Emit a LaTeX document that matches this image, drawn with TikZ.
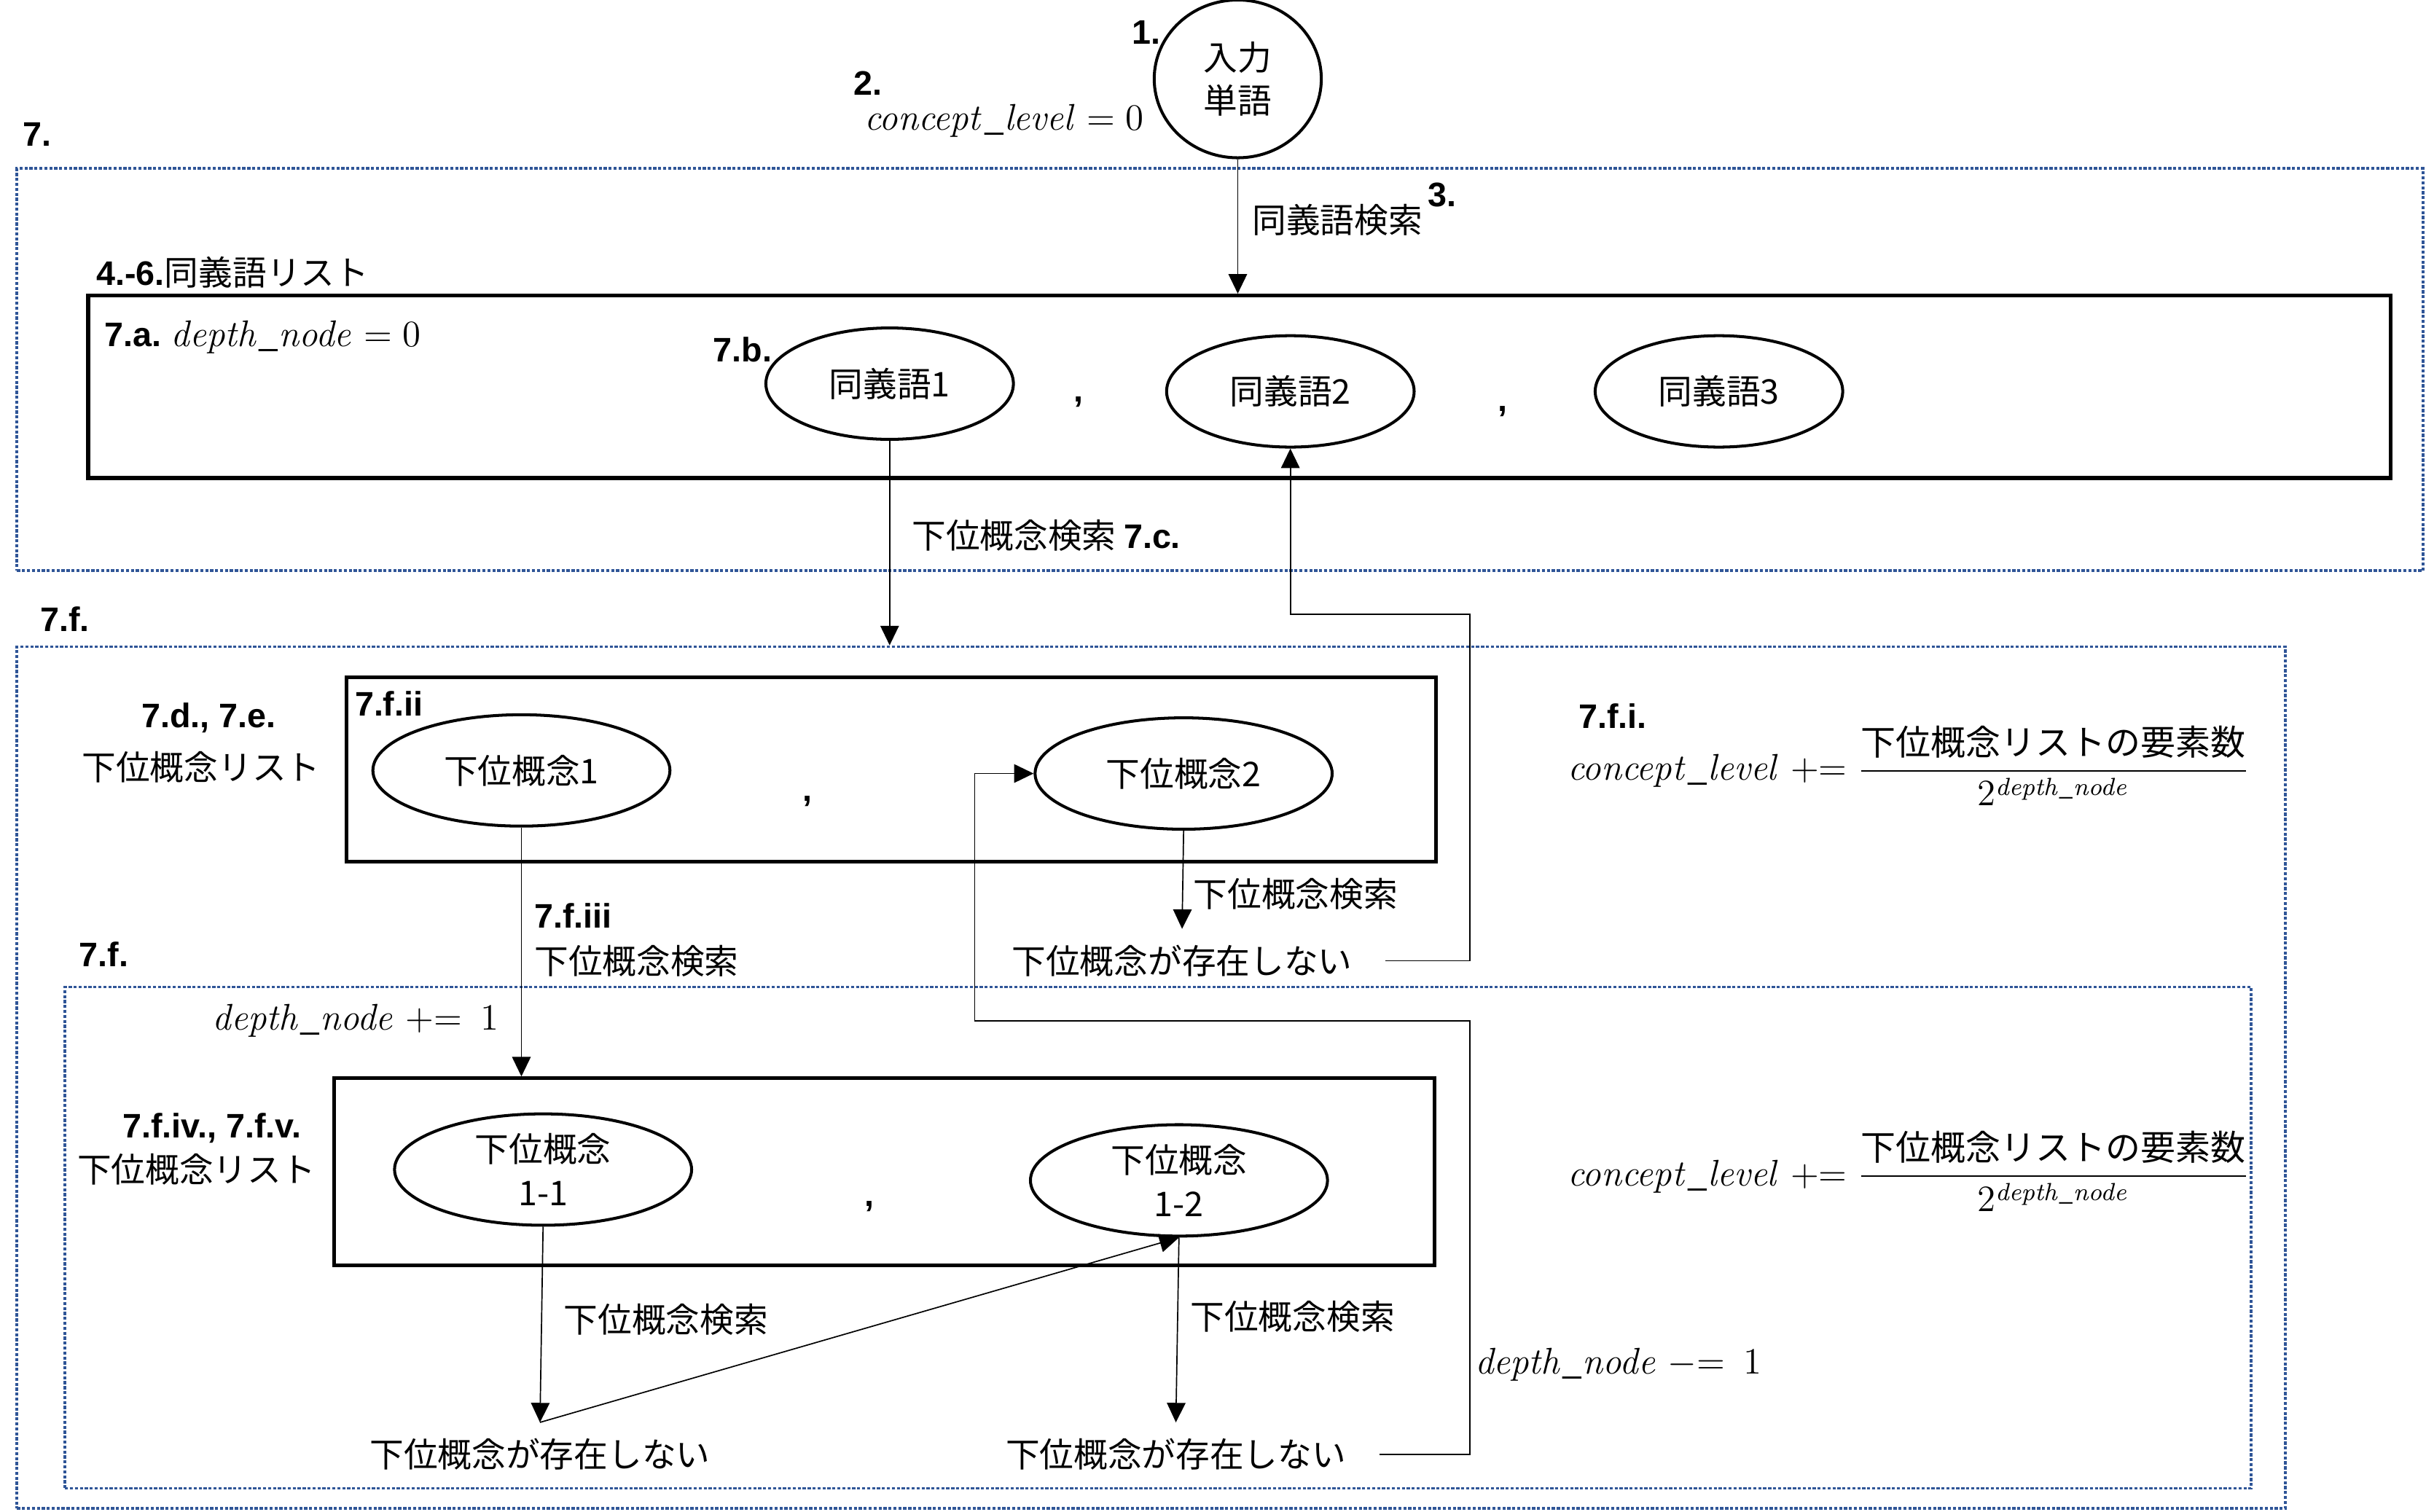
\documentclass[tikz,border=0pt]{standalone}
\usepackage{amsmath}
\usepackage[no-math]{fontspec}
\setmainfont{Noto Sans CJK JP}
\newfontfamily\labfont{Liberation Sans}
\usetikzlibrary{arrows.meta,shapes.geometric,calc}
\definecolor{dotblue}{HTML}{2F5597}
\tikzset{
  ell/.style={draw, ellipse, line width=0.95pt, inner sep=0pt, minimum width=96pt, minimum height=36pt, align=center},
  listbox/.style={draw, rectangle, line width=1.2pt, inner sep=0pt},
  dotbox/.style={draw=dotblue, rectangle, line width=0.9pt, dash pattern=on 1pt off 0.6pt, inner sep=0pt},
  arr/.style={line width=0.4pt, -{Triangle[length=6.3pt,width=6pt]}},
  ln/.style={line width=0.4pt},
  lab/.style={font=\labfont\bfseries\fontsize{11pt}{13pt}\selectfont, inner sep=0pt},
  txt/.style={inner sep=0pt},
  mtxt/.style={inner sep=0pt, font=\fontsize{11.7pt}{14pt}\selectfont},
  nx/.style={inner sep=5pt},
}
\newcommand{\lb}[1]{{\labfont\bfseries #1}}
\newcommand{\mv}[1]{\mathit{#1}}
\newcommand{\numtxt}{\text{\fontsize{11.3pt}{13pt}\selectfont 下位概念リストの要素数}}
\begin{document}
\begin{tikzpicture}[x=0.5pt,y=-0.5pt, font=\fontsize{11pt}{14pt}\selectfont]
\useasboundingbox (0,0) rectangle (1568,977);

% dotted boxes
\node[dotbox, minimum width=777.5pt, minimum height=130pt] (box7) at (788.5,239) {};
\node[dotbox, minimum width=733pt, minimum height=278.5pt] (box7f) at (744,696.5) {};
\node[dotbox, minimum width=706.5pt, minimum height=162pt] (box7fin) at (748.5,800) {};

% list boxes
\node[listbox, minimum width=744pt, minimum height=59pt] (synbox) at (801,250) {};
\node[listbox, minimum width=352pt, minimum height=59.5pt] (subbox) at (576,497.5) {};
\node[listbox, minimum width=355.5pt, minimum height=60.5pt] (subsubbox) at (571.5,757.5) {};

% ellipses
\node[ell, minimum width=54pt, minimum height=51pt] (in) at (800,51) {入力\\単語};
\node[ell, minimum width=80pt] (syn1) at (575,248) {同義語1};
\node[ell, minimum width=80pt] (syn2) at (834,253) {同義語2};
\node[ell, minimum width=80pt] (syn3) at (1111,253) {同義語3};
\node[ell] (sub1) at (337,498) {下位概念1};
\node[ell] (sub2) at (765,500) {下位概念2};
\node[ell] (sub11) at (351,756) {下位概念\\1-1};
\node[ell] (sub12) at (762,763) {下位概念\\1-2};

% commas
\node[lab] (c1) at (697,260) {,};
\node[lab] (c2) at (971,266) {,};
\node[lab] (c3) at (522,518) {,};
\node[lab] (c4) at (562,780) {,};

% labels
\node[lab] (l1) at (741,21) {1.};
\node[lab] (l2) at (561,54) {2.};
\node[mtxt] (cl0) at (649,78) {$\mv{concept\_level} = 0$};
\node[lab] (l7) at (24,87) {7.};
\node[lab] (l3) at (932,126) {3.};
\node[txt, anchor=west] (t3) at (809,142) {同義語検索};
\node[txt, anchor=west] (l46) at (62,176) {\lb{4.-6.}同義語リスト};
\node[txt, anchor=west] (l7a) at (67,218) {\lb{7.a.} {\fontsize{11.7pt}{14pt}\selectfont$\mv{depth\_node} = 0$}};
\node[lab] (l7b) at (480,226) {7.b.};
\node[txt, anchor=west] (t7c) at (589,346) {下位概念検索 \lb{7.c.}};
\node[lab] (l7f) at (42,400) {7.f.};
\node[lab, anchor=west] (l7fii) at (229,455) {7.f.ii};
\node[lab] (l7de) at (135,464) {7.d., 7.e.};
\node[txt] (tsl1) at (130,496) {下位概念リスト};
\node[lab, anchor=west] (l7fi) at (1020,463) {7.f.i.};
\node[mtxt, anchor=west] (f1) at (1013,495) {$\mv{concept\_level} \mathrel{{+}{=}} \dfrac{\numtxt}{2^{\mv{depth\_node}}}$};
\node[txt, anchor=west] (t2s) at (771,578) {下位概念検索};
\node[nx] (nx1) at (764,621) {下位概念が存在しない};
\node[lab, anchor=west] (l7fiii) at (345,592) {7.f.iii};
\node[txt, anchor=west] (t1s) at (345,621) {下位概念検索};
\node[lab] (l7f2) at (67,617) {7.f.};
\node[mtxt] (dn1) at (230,660) {$\mv{depth\_node} \mathrel{{+}{=}}\ 1$};
\node[lab] (l7fiv) at (137,729) {7.f.iv., 7.f.v.};
\node[txt] (tsl2) at (127,756) {下位概念リスト};
\node[mtxt, anchor=west] (f2) at (1013,757) {$\mv{concept\_level} \mathrel{{+}{=}} \dfrac{\numtxt}{2^{\mv{depth\_node}}}$};
\node[txt, anchor=west] (t11s) at (364,853) {下位概念検索};
\node[txt, anchor=west] (t12s) at (769,851) {下位概念検索};
\node[mtxt] (dn2) at (1046,882) {$\mv{depth\_node} \mathrel{{-}{=}}\ 1$};
\node[nx] (nx3) at (349,940) {下位概念が存在しない};
\node[nx] (nx4) at (760,940) {下位概念が存在しない};

% connectors
\draw[arr] (in.south) -- (in.south |- synbox.north);
\draw[arr] (syn1.south) -- (syn1.south |- box7f.north);
\coordinate (r1) at (950,397);
\draw[arr] ([xshift=5.5pt]nx1.east) -| (r1) -| (syn2.south);
\draw[arr] (sub2.south) -- (nx1.north);
\coordinate (r2) at (950,660);
\coordinate (r3) at (630,660);
\draw[arr] ([xshift=5.5pt]nx4.east) -| (r2) -- (r3) |- (sub2.west);
\draw[arr] (sub1.south) -- (sub1.south |- subsubbox.north);
\draw[arr] (sub11.south) -- (nx3.north);
\draw[arr] (nx3.north) -- (sub12.south);
\draw[arr] (sub12.south) -- (nx4.north);
\end{tikzpicture}
\end{document}
